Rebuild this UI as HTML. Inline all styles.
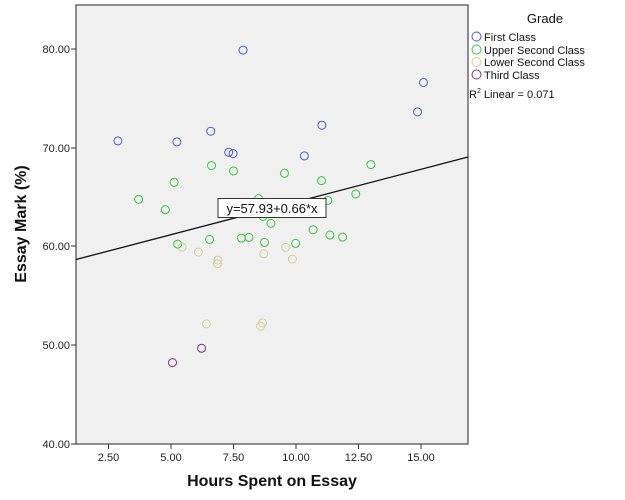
<!DOCTYPE html>
<html><head><style>
html,body{margin:0;padding:0;background:#fff;}
svg{display:block;font-family:"Liberation Sans",sans-serif;}
</style></head><body>
<svg width="625" height="500" viewBox="0 0 625 500">
<rect x="76" y="5" width="392" height="439" fill="#f0f0f0" stroke="#555" stroke-width="1.3"/>
<g stroke="#333" stroke-width="1">
<line x1="71" y1="49" x2="76" y2="49"/><line x1="71" y1="148" x2="76" y2="148"/><line x1="71" y1="246" x2="76" y2="246"/><line x1="71" y1="345" x2="76" y2="345"/><line x1="71" y1="444" x2="76" y2="444"/>
<line x1="108.5" y1="444" x2="108.5" y2="449"/><line x1="171" y1="444" x2="171" y2="449"/><line x1="233.5" y1="444" x2="233.5" y2="449"/><line x1="296" y1="444" x2="296" y2="449"/><line x1="358.5" y1="444" x2="358.5" y2="449"/><line x1="421" y1="444" x2="421" y2="449"/>
</g>
<g font-size="11" fill="#222" text-anchor="end">
<text x="70" y="53">80.00</text><text x="70" y="152">70.00</text><text x="70" y="250">60.00</text><text x="70" y="349">50.00</text><text x="70" y="448">40.00</text>
</g>
<g font-size="11" fill="#222" text-anchor="middle">
<text x="108.5" y="461">2.50</text><text x="171" y="461">5.00</text><text x="233.5" y="461">7.50</text><text x="296" y="461">10.00</text><text x="358.5" y="461">12.50</text><text x="421" y="461">15.00</text>
</g>
<text x="272" y="486" font-size="16" font-weight="bold" text-anchor="middle" fill="#111">Hours Spent on Essay</text>
<text transform="translate(26,224) rotate(-90)" font-size="16" font-weight="bold" text-anchor="middle" fill="#111">Essay Mark (%)</text>
<line x1="76" y1="259.5" x2="468" y2="157" stroke="#111" stroke-width="1.3"/>
<g transform="scale(0.3984,0.3339)" fill="none" stroke-width="1">
<g stroke="#4a5fc1">
<ellipse cx="296" cy="422" rx="10" ry="12" vector-effect="non-scaling-stroke"/><ellipse cx="444" cy="425" rx="10" ry="12" vector-effect="non-scaling-stroke"/><ellipse cx="529" cy="393" rx="10" ry="12" vector-effect="non-scaling-stroke"/><ellipse cx="610" cy="150" rx="10" ry="12" vector-effect="non-scaling-stroke"/><ellipse cx="574" cy="456" rx="10" ry="12" vector-effect="non-scaling-stroke"/><ellipse cx="585" cy="460" rx="10" ry="12" vector-effect="non-scaling-stroke"/><ellipse cx="764" cy="467" rx="10" ry="12" vector-effect="non-scaling-stroke"/><ellipse cx="808" cy="375" rx="10" ry="12" vector-effect="non-scaling-stroke"/><ellipse cx="1048" cy="335" rx="10" ry="12" vector-effect="non-scaling-stroke"/><ellipse cx="1063" cy="247" rx="10" ry="12" vector-effect="non-scaling-stroke"/>
</g>
<g stroke="#3cbf45">
<ellipse cx="348" cy="597" rx="10" ry="12" vector-effect="non-scaling-stroke"/><ellipse cx="415" cy="628" rx="10" ry="12" vector-effect="non-scaling-stroke"/><ellipse cx="437" cy="546" rx="10" ry="12" vector-effect="non-scaling-stroke"/><ellipse cx="446" cy="731" rx="10" ry="12" vector-effect="non-scaling-stroke"/><ellipse cx="526" cy="717" rx="10" ry="12" vector-effect="non-scaling-stroke"/><ellipse cx="531" cy="496" rx="10" ry="12" vector-effect="non-scaling-stroke"/><ellipse cx="586" cy="512" rx="10" ry="12" vector-effect="non-scaling-stroke"/><ellipse cx="606" cy="713" rx="10" ry="12" vector-effect="non-scaling-stroke"/><ellipse cx="625" cy="711" rx="10" ry="12" vector-effect="non-scaling-stroke"/><ellipse cx="649" cy="595" rx="10" ry="12" vector-effect="non-scaling-stroke"/><ellipse cx="664" cy="726" rx="10" ry="12" vector-effect="non-scaling-stroke"/><ellipse cx="660" cy="648" rx="10" ry="12" vector-effect="non-scaling-stroke"/><ellipse cx="680" cy="669" rx="10" ry="12" vector-effect="non-scaling-stroke"/><ellipse cx="714" cy="519" rx="10" ry="12" vector-effect="non-scaling-stroke"/><ellipse cx="742" cy="729" rx="10" ry="12" vector-effect="non-scaling-stroke"/><ellipse cx="786" cy="688" rx="10" ry="12" vector-effect="non-scaling-stroke"/><ellipse cx="807" cy="541" rx="10" ry="12" vector-effect="non-scaling-stroke"/><ellipse cx="823" cy="600" rx="10" ry="12" vector-effect="non-scaling-stroke"/><ellipse cx="828" cy="704" rx="10" ry="12" vector-effect="non-scaling-stroke"/><ellipse cx="860" cy="710" rx="10" ry="12" vector-effect="non-scaling-stroke"/><ellipse cx="893" cy="581" rx="10" ry="12" vector-effect="non-scaling-stroke"/><ellipse cx="931" cy="493" rx="10" ry="12" vector-effect="non-scaling-stroke"/>
</g>
<g stroke="#d6cd98">
<ellipse cx="457" cy="740" rx="10" ry="12" vector-effect="non-scaling-stroke"/><ellipse cx="498" cy="755" rx="10" ry="12" vector-effect="non-scaling-stroke"/><ellipse cx="547" cy="779" rx="10" ry="12" vector-effect="non-scaling-stroke"/><ellipse cx="546" cy="790" rx="10" ry="12" vector-effect="non-scaling-stroke"/><ellipse cx="518" cy="970" rx="10" ry="12" vector-effect="non-scaling-stroke"/><ellipse cx="659" cy="967" rx="10" ry="12" vector-effect="non-scaling-stroke"/><ellipse cx="654" cy="977" rx="10" ry="12" vector-effect="non-scaling-stroke"/><ellipse cx="662" cy="760" rx="10" ry="12" vector-effect="non-scaling-stroke"/><ellipse cx="717" cy="741" rx="10" ry="12" vector-effect="non-scaling-stroke"/><ellipse cx="734" cy="776" rx="10" ry="12" vector-effect="non-scaling-stroke"/>
</g>
<g stroke="#7d2f8c">
<ellipse cx="433" cy="1086" rx="10" ry="12" vector-effect="non-scaling-stroke"/><ellipse cx="506" cy="1043" rx="10" ry="12" vector-effect="non-scaling-stroke"/>
</g>
</g>
<rect x="218" y="198.5" width="108" height="19" fill="#fff" stroke="#333" stroke-width="1"/>
<text x="272" y="213" font-size="13" text-anchor="middle" fill="#111">y=57.93+0.66*x</text>
<text x="545" y="23" font-size="13" text-anchor="middle" fill="#111">Grade</text>
<g fill="none" stroke-width="1">
<circle cx="476.5" cy="36.5" r="4.5" stroke="#4a5fc1"/>
<circle cx="476.5" cy="49.5" r="4.5" stroke="#3cbf45"/>
<circle cx="476.5" cy="62" r="4.5" stroke="#d6cd98"/>
<circle cx="476.5" cy="74.5" r="4.5" stroke="#7d2f8c"/>
</g>
<g font-size="11" fill="#111">
<text x="484" y="41">First Class</text>
<text x="484" y="54">Upper Second Class</text>
<text x="484" y="66">Lower Second Class</text>
<text x="484" y="79">Third Class</text>
<text x="469" y="98">R<tspan font-size="7" dy="-5">2</tspan><tspan dy="5"> Linear = 0.071</tspan></text>
</g>
</svg>
</body></html>
